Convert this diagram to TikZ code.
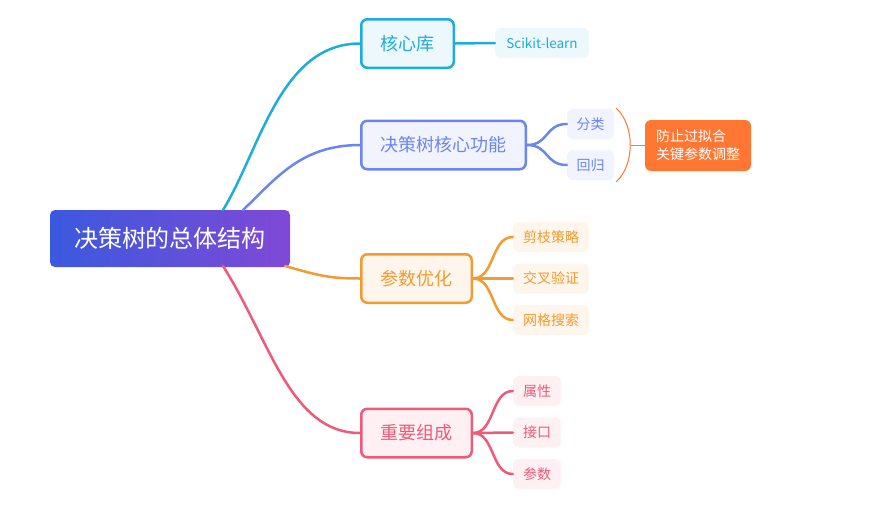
\documentclass[tikz,border=0pt]{standalone}
\usepackage{fontspec}
\newfontfamily\cjk{Noto Sans CJK SC}
\usetikzlibrary{positioning}
\definecolor{cyanc}{HTML}{1EADDB}
\definecolor{bluec}{HTML}{6B86F1}
\definecolor{orangec}{HTML}{F29B2E}
\definecolor{pinkc}{HTML}{EF5A78}
\definecolor{summc}{HTML}{FF7733}
\definecolor{cyanf}{HTML}{EDF8FD}
\definecolor{bluef}{HTML}{F1F3FE}
\definecolor{orangef}{HTML}{FEF6EC}
\definecolor{pinkf}{HTML}{FEF0F3}
\definecolor{rootl}{HTML}{3A59DE}
\definecolor{rootr}{HTML}{8049D6}
\tikzset{
  rootbox/.style={rounded corners=5pt, left color=rootl, right color=rootr, text=white,
    minimum width=240pt, minimum height=57pt, inner sep=0pt, font=\cjk\fontsize{24}{28}\selectfont},
  branchbox/.style={rounded corners=6pt, draw=#1, line width=2.5pt, text=#1,
    minimum height=48.5pt, inner sep=0pt, font=\cjk\fontsize{18}{21}\selectfont},
  leafbox/.style={rounded corners=6pt, text=#1, minimum height=30pt, inner sep=0pt,
    font=\cjk\fontsize{14}{16}\selectfont},
  link/.style={line width=2.5pt, draw=#1, line cap=round},
}
\begin{document}
\begin{tikzpicture}[x=1pt,y=-1pt]
        \useasboundingbox (0,0) rectangle (876,512);
        % root
        \node[rootbox] (root) at (170,238.5) {决策树的总体结构};
        \coordinate (rc) at (223,210);
        \coordinate (rb) at (243,210);
        \coordinate (ro) at (285,266);
        \coordinate (rp) at (223,266);

        % branches
        \node[branchbox=cyanc, fill=cyanf, minimum width=92.5pt] (lib) at (407.5,43.5) {核心库};
        \node[branchbox=bluec, fill=bluef, minimum width=164.5pt] (core) at (443.5,145) {决策树核心功能};
        \node[branchbox=orangec, fill=orangef, minimum width=110.5pt] (opt) at (416.5,278.5) {参数优化};
        \node[branchbox=pinkc, fill=pinkf, minimum width=110.5pt] (part) at (416.5,433) {重要组成};

        \draw[link=cyanc] (rc) .. controls (260,150) and (280,43.5) .. (lib.west);
        \draw[link=bluec] (rb) .. controls (275,180) and (300,145) .. (core.west);
        \draw[link=orangec] (ro) .. controls (320,276) and (330,278.5) .. (opt.west);
        \draw[link=pinkc] (rp) .. controls (270,340) and (290,433) .. (part.west);

        % leaves
        \node[leafbox=cyanc, fill=cyanf, minimum width=94pt, font=\cjk\fontsize{13.5}{16}\selectfont] (sk) at (542,43) {Scikit-learn};
        \draw[link=cyanc] (lib.east) -- (sk.west);

        \node[leafbox=bluec, fill=bluef, minimum width=47pt] (cls) at (590.5,124) {分类};
        \node[leafbox=bluec, fill=bluef, minimum width=47pt] (reg) at (590.5,165) {回归};
        \foreach \n in {cls,reg}
          \draw[link=bluec] (core.east) .. controls +(22,0) and +(-22,0) .. (\n.west);

        \node[leafbox=orangec, fill=orangef, minimum width=76pt] (prune) at (551,237) {剪枝策略};
        \node[leafbox=orangec, fill=orangef, minimum width=76pt] (cv) at (551,278.5) {交叉验证};
        \node[leafbox=orangec, fill=orangef, minimum width=76pt] (grid) at (551,320) {网格搜索};
        \foreach \n in {prune,cv,grid}
          \draw[link=orangec] (opt.east) .. controls +(22,0) and +(-22,0) .. (\n.west);

        \node[leafbox=pinkc, fill=pinkf, minimum width=48pt] (attr) at (537,391) {属性};
        \node[leafbox=pinkc, fill=pinkf, minimum width=48pt] (api) at (537,432.5) {接口};
        \node[leafbox=pinkc, fill=pinkf, minimum width=48pt] (para) at (537,474) {参数};
        \foreach \n in {attr,api,para}
          \draw[link=pinkc] (part.east) .. controls +(22,0) and +(-22,0) .. (\n.west);

        % summary
        \node[rounded corners=6pt, fill=summc, text=white, minimum width=106pt, minimum height=51pt,
          inner sep=0pt, align=left, font=\cjk\fontsize{14}{18}\selectfont] (summ) at (698,145.5) {防止过拟合\\关键参数调整};
        \coordinate (bt) at (616,108);
        \coordinate (bb) at (616,182);
        \coordinate (bm) at (630.5,145.5);
        \draw[summc, line width=1pt] (bt) .. controls (635,125) and (635,165) .. (bb);
        \draw[summc, line width=1pt] (bm) -- (summ.west);
\end{tikzpicture}
\end{document}
